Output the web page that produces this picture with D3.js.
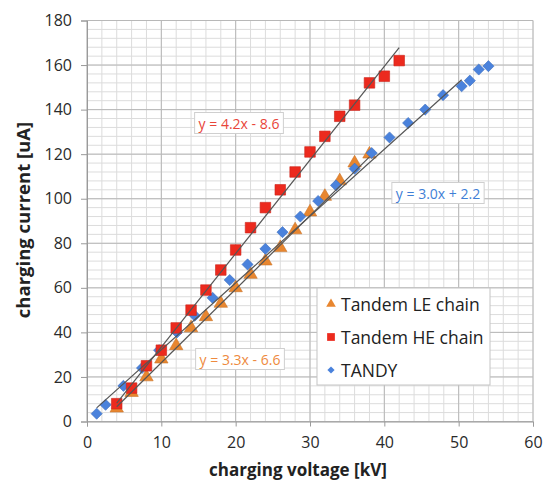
<!DOCTYPE html>
<html>
<head>
<meta charset="utf-8">
<script src="https://cdn.jsdelivr.net/npm/d3@7"></script>
<style>
  html, body { margin: 0; padding: 0; background: #fff; }
  svg { display: block; font-family: "Open Sans", sans-serif; }
</style>
</head>
<body>
<svg id="chart" width="547" height="484"></svg>
<script>
// Charging current vs charging voltage for three chains
const xTicks = [0, 10, 20, 30, 40, 50, 60];
const yTicks = [0, 20, 40, 60, 80, 100, 120, 140, 160, 180];

// Tandem LE chain: [voltage kV, current uA]
const leChain = [
  [4, 6], [6, 13], [8, 20], [10, 28], [12, 34], [14, 42], [16, 47], [18, 53],
  [20, 60], [22, 66], [24, 72], [26, 78], [28, 86], [30, 94], [32, 101],
  [34, 108], [36, 116], [38, 120]
];
// Tandem HE chain
const heChain = [
  [4, 8], [6, 15], [8, 25], [10, 32], [12, 42], [14, 50], [16, 59], [18, 68],
  [20, 77], [22, 87], [24, 96], [26, 104], [28, 112], [30, 121], [32, 128],
  [34, 137], [36, 142], [38, 152], [40, 155], [42, 162]
];
// TANDY
const tandy = [
  [1.3, 3.5], [2.5, 7.5], [4.9, 16], [7.4, 24], [9.7, 32], [12.1, 40],
  [14.5, 47.5], [16.9, 55.5], [19.2, 63.5], [21.6, 70.5], [24.0, 77.5],
  [26.3, 85], [28.7, 92], [31.1, 99], [33.5, 106], [36.0, 113.5],
  [38.3, 120.5], [40.7, 127.5], [43.2, 134], [45.5, 140], [47.9, 146.5],
  [50.4, 150.5], [51.5, 153], [52.7, 158], [54.0, 159.5]
];

// Linear fits: slope, intercept, x-range of the drawn trendline
const fitLE = { slope: 3.3, intercept: -6.6, from: 4, to: 38, label: "y = 3.3x - 6.6" };
const fitHE = { slope: 4.2, intercept: -8.6, from: 4, to: 42, label: "y = 4.2x - 8.6" };
const fitTandy = { slope: 3.0, intercept: 2.2, from: 1.3, to: 50.4, label: "y = 3.0x + 2.2" };

const seriesNames = ["Tandem LE chain", "Tandem HE chain", "TANDY"];

const colors = { le: "#e8862f", he: "#ec2a1e", tandy: "#4a82dc" };

const svg = d3.select("#chart");
const margin = { left: 87, right: 14, top: 20.5, bottom: 62.5 };
const W = 547, H = 484;

const x = d3.scaleLinear().domain([0, 60]).range([margin.left, W - margin.right]);
const y = d3.scaleLinear().domain([0, 180]).range([H - margin.bottom, margin.top]);

const plot = svg.append("g");

// minor grid
const xMinor = d3.range(0, 60.001, 2);
const yMinor = d3.range(0, 180.001, 4);
plot.selectAll("line.xminor").data(xMinor).join("line")
  .attr("x1", d => x(d)).attr("x2", d => x(d))
  .attr("y1", y(0)).attr("y2", y(180))
  .attr("stroke", "#dcdcdc").attr("stroke-width", 1);
plot.selectAll("line.yminor").data(yMinor).join("line")
  .attr("y1", d => y(d)).attr("y2", d => y(d))
  .attr("x1", x(0)).attr("x2", x(60))
  .attr("stroke", "#dcdcdc").attr("stroke-width", 1);
// major grid
plot.selectAll("line.xmajor").data(xTicks).join("line")
  .attr("x1", d => x(d)).attr("x2", d => x(d))
  .attr("y1", y(0)).attr("y2", y(180))
  .attr("stroke", "#b8b8b8").attr("stroke-width", 1);
plot.selectAll("line.ymajor").data(yTicks).join("line")
  .attr("y1", d => y(d)).attr("y2", d => y(d))
  .attr("x1", x(0)).attr("x2", x(60))
  .attr("stroke", "#b8b8b8").attr("stroke-width", 1);

// axes
const xAxis = svg.append("g").attr("transform", `translate(0,${y(0)})`)
  .call(d3.axisBottom(x).tickValues(xTicks).tickSize(5).tickPadding(10));
const yAxis = svg.append("g").attr("transform", `translate(${x(0)},0)`)
  .call(d3.axisLeft(y).tickValues(yTicks).tickSize(6).tickPadding(9));
[xAxis, yAxis].forEach(a => {
  a.select(".domain").attr("stroke", "#9a9a9a");
  a.selectAll(".tick line").attr("stroke", "#9a9a9a");
  a.selectAll(".tick text").attr("fill", "#2a2a2a").style("font-size", "16px")
    .style("font-family", "'Open Sans', sans-serif");
});

// markers
const sym = (type, size) => d3.symbol().type(type).size(size);

function drawSeries(data, type, size, color, rot) {
  svg.append("g").selectAll("path").data(data).join("path")
    .attr("d", sym(type, size)())
    .attr("transform", d => `translate(${x(d[0])},${y(d[1])})` + (rot ? ` rotate(${rot})` : ""))
    .attr("fill", color)
    .attr("stroke", d3.color(color).darker(0.4))
    .attr("stroke-width", 0.6);
}
drawSeries(leChain, d3.symbolTriangle, 78, colors.le);
drawSeries(tandy, d3.symbolSquare, 62, colors.tandy, 45);
drawSeries(heChain, d3.symbolSquare, 112, colors.he);

// trendlines
[fitLE, fitHE, fitTandy].forEach(f => {
  svg.append("line")
    .attr("x1", x(f.from)).attr("y1", y(f.slope * f.from + f.intercept))
    .attr("x2", x(f.to)).attr("y2", y(f.slope * f.to + f.intercept))
    .attr("stroke", "#555").attr("stroke-width", 1.2);
});

// equation labels
function eqLabel(f, cx, cy, color) {
  const g = svg.append("g");
  const t = g.append("text").attr("x", cx).attr("y", cy)
    .attr("text-anchor", "middle").attr("dominant-baseline", "central")
    .style("font-size", "14px").attr("fill", color).text(f.label);
  const bb = t.node().getBBox();
  g.insert("rect", "text")
    .attr("x", bb.x - 4).attr("y", bb.y - 1)
    .attr("width", bb.width + 8).attr("height", bb.height + 2)
    .attr("fill", "#fff").attr("stroke", "#cfcfcf").attr("stroke-width", 1);
}
eqLabel(fitHE, 239, 123, "#e8453a");
eqLabel(fitTandy, 438, 193, "#3f7fd6");
eqLabel(fitLE, 240, 359, "#ee8a3e");

// legend
const lg = svg.append("g");
lg.append("rect").attr("x", 317).attr("y", 288).attr("width", 173).attr("height", 97)
  .attr("fill", "#fff").attr("stroke", "#c4c4c4").attr("stroke-width", 1);
const legendItems = [
  { name: seriesNames[0], type: d3.symbolTriangle, size: 40, color: colors.le, rot: 0 },
  { name: seriesNames[1], type: d3.symbolSquare, size: 60, color: colors.he, rot: 0 },
  { name: seriesNames[2], type: d3.symbolSquare, size: 26, color: colors.tandy, rot: 45 }
];
legendItems.forEach((it, i) => {
  const cy = 304 + i * 33;
  lg.append("path").attr("d", sym(it.type, it.size)())
    .attr("transform", `translate(331,${cy}) rotate(${it.rot})`)
    .attr("fill", it.color);
  lg.append("text").attr("x", 341).attr("y", cy).attr("dominant-baseline", "central")
    .style("font-size", "17.5px").attr("fill", "#222").text(it.name);
});

// axis titles
svg.append("text").attr("x", 298).attr("y", 476).attr("text-anchor", "middle")
  .style("font-size", "17px").style("font-weight", "bold").attr("fill", "#222")
  .text("charging voltage [kV]");
svg.append("text").attr("transform", "translate(30,220) rotate(-90)")
  .attr("text-anchor", "middle")
  .style("font-size", "18.5px").style("font-weight", "bold").attr("fill", "#222")
  .text("charging current [uA]");
</script>
</body>
</html>
